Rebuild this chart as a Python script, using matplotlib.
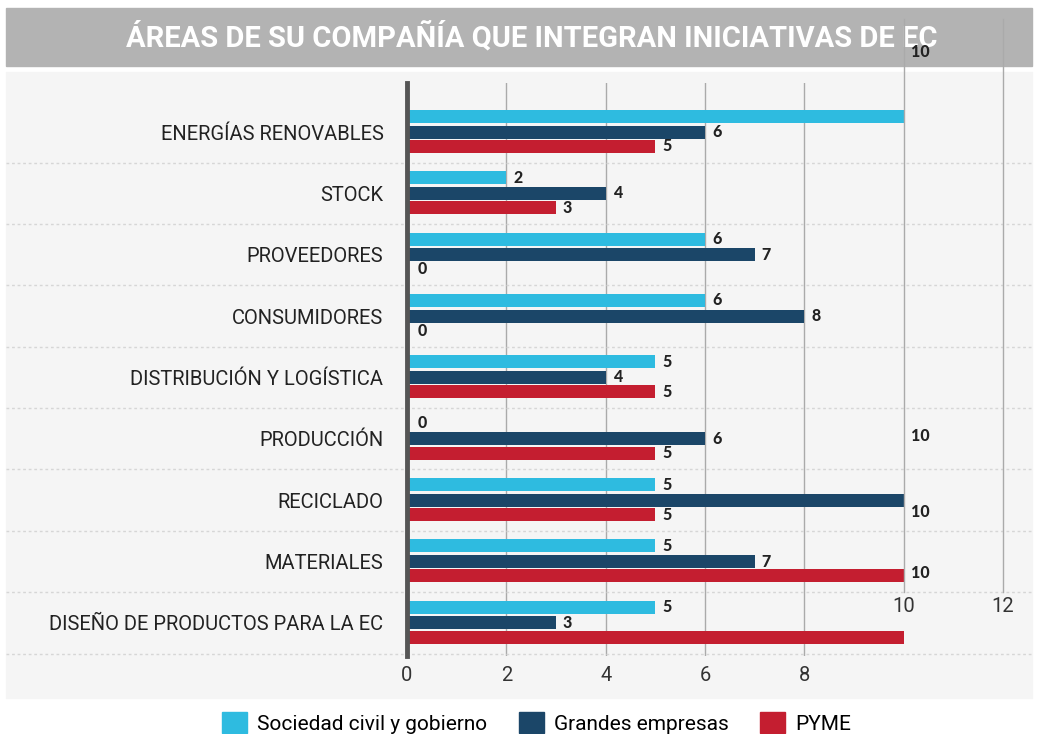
import matplotlib.pyplot as plt
from matplotlib.patches import Rectangle, Patch
from matplotlib.transforms import blended_transform_factory
import numpy as np

categories = ["ENERGÍAS RENOVABLES", "STOCK", "PROVEEDORES", "CONSUMIDORES",
              "DISTRIBUCIÓN Y LOGÍSTICA", "PRODUCCIÓN", "RECICLADO",
              "MATERIALES", "DISEÑO DE PRODUCTOS PARA LA EC"]
sociedad = [10, 2, 6, 6, 5, 0, 5, 5, 5]
grandes = [6, 4, 7, 8, 4, 6, 10, 7, 3]
pyme = [5, 3, 0, 0, 5, 5, 5, 10, 10]
series_names = ["Sociedad civil y gobierno", "Grandes empresas", "PYME"]
colors = ["#2ebbe0", "#1b4668", "#c41e30"]
xticks_low = [0, 2, 4, 6, 8]
xticks_high = [10, 12]

plt.rcParams['font.family'] = ['Roboto', 'DejaVu Sans']

fig = plt.figure(figsize=(10.38, 7.34), dpi=100)
fig.patch.set_facecolor("white")

# backgrounds
fig.patches.append(Rectangle((6/1038, 1-698/734), 1026/1038, 626/734,
                             transform=fig.transFigure, color="#f5f5f5", zorder=-2))
fig.patches.append(Rectangle((6/1038, 1-66/734), 1026/1038, 58/734,
                             transform=fig.transFigure, color="#b3b3b3", zorder=-2))
fig.text(0.512, 1-37/734, "ÁREAS DE SU COMPAÑÍA QUE INTEGRAN INICIATIVAS DE EC",
         ha="center", va="center", color="white", fontsize=21, fontweight="bold",
         family="Roboto", zorder=-1)

ax = fig.add_axes([407/1038, 1-656/734, (1032-407)/1038, (656-83)/734])
ax.set_facecolor("none")
xmax = (1032-407)/49.67
ax.set_xlim(0, xmax)
ax.set_ylim(8.54, -0.80)

y = np.arange(len(categories))
h = 0.21
offs = [-0.255, 0, 0.235]
px_row = 61.4
shift = 64 / px_row  # part of the original chart drawn one row higher

for vals, off, c in zip([sociedad, grandes, pyme], offs, colors):
    ax.barh(y + off, vals, height=h, color=c, zorder=3)
    for yi, v in zip(y, vals):
        yy = yi + off - (shift if v >= 10 else 0)
        ax.annotate(str(v), (v, yy), xytext=(5 if v else 8, 0), textcoords="offset points",
                    ha="left", va="center", fontsize=11.5, fontweight="black",
                    color="#222222", zorder=5, annotation_clip=False,
                    family=['Lato', 'DejaVu Sans'])

# grid
for t in xticks_low[1:]:
    ax.plot([t, t], [8.54, -0.80], color="#aaaaaa", lw=1, zorder=1)
for t in xticks_high:
    ax.plot([t, t], [8.54 - shift, -0.80 - shift], color="#aaaaaa", lw=1,
            zorder=6, clip_on=False)
    ax.text(t, 8.54 - shift + 0.08, str(t), ha="center", va="top", fontsize=14.5,
            color="#333333")

# separators across full width
tr = blended_transform_factory(fig.transFigure, ax.transData)
for i in range(len(categories)):
    ax.plot([6/1038, 1032/1038], [i + 0.5, i + 0.5], transform=tr, color="#d6d6d6",
            lw=1, ls=(0, (2, 2)), clip_on=False, zorder=1)

ax.set_xticks(xticks_low)
ax.set_xticklabels([str(t) for t in xticks_low], fontsize=14.5, color="#333333")
ax.set_yticks(y)
ax.set_yticklabels(categories, fontsize=14.5, color="#222222")
ax.tick_params(length=0)
ax.tick_params(axis="y", pad=17)
ax.tick_params(axis="x", pad=7)
for s in ["top", "right", "bottom"]:
    ax.spines[s].set_visible(False)
ax.spines["left"].set_color("#555555")
ax.spines["left"].set_linewidth(3.5)
ax.spines["left"].set_zorder(4)

handles = [Patch(color=c, label=n) for c, n in zip(colors, series_names)]
fig.legend(handles=handles, loc="lower center", bbox_to_anchor=(0.517, -0.025),
           ncol=3, frameon=False, fontsize=15, handlelength=1.2, handleheight=1.2,
           columnspacing=1.5, handletextpad=0.5)

fig.savefig("out.png", dpi=100)
